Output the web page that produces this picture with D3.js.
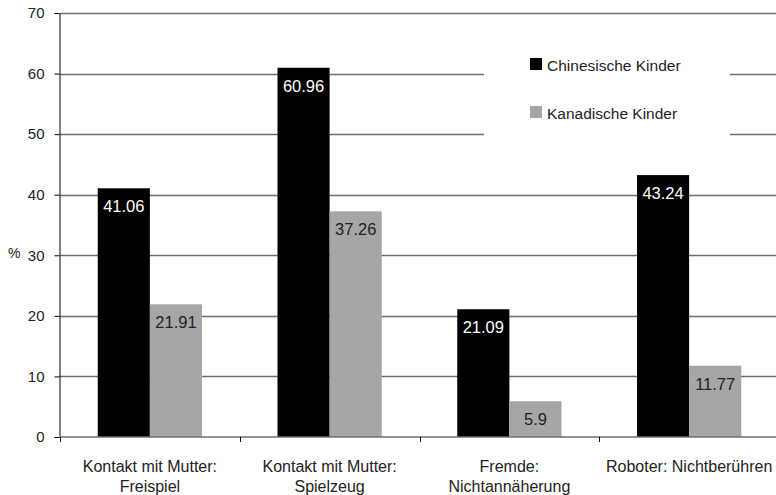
<!DOCTYPE html>
<html>
<head>
<meta charset="utf-8">
<script src="https://cdn.jsdelivr.net/npm/d3@7"></script>
<style>
  body { margin: 0; background: #fff; }
  text { font-family: "Liberation Sans", Arial, sans-serif; }
</style>
</head>
<body>
<script>
var width = 776,
    height = 495;

var categories = [
    ["Kontakt mit Mutter:", "Freispiel"],
    ["Kontakt mit Mutter:", "Spielzeug"],
    ["Fremde:", "Nichtannäherung"],
    ["Roboter: Nichtberühren"]
];
var seriesNames = ["Chinesische Kinder", "Kanadische Kinder"];
var chinese = [41.06, 60.96, 21.09, 43.24];
var canadian = [21.91, 37.26, 5.9, 11.77];
var yTicks = [0, 10, 20, 30, 40, 50, 60, 70];

var colors = ["#000000", "#a6a6a6"];
var labelColors = ["#ffffff", "#222222"];

var margin = {left: 60, top: 13, right: -3, bottom: 58};

var svg = d3.select("body").append("svg")
    .attr("width", width)
    .attr("height", height);

var x = d3.scaleBand()
    .domain(d3.range(categories.length))
    .range([margin.left, width - margin.right])
    .paddingInner(0.42)
    .paddingOuter(0.21);

var y = d3.scaleLinear()
    .domain([0, 70])
    .range([height - margin.bottom, margin.top]);

var x1 = d3.scaleBand()
    .domain([0, 1])
    .range([0, x.bandwidth()]);

// gridlines
svg.append("g")
    .selectAll("line")
    .data(yTicks.slice(1))
    .enter().append("line")
    .attr("x1", margin.left)
    .attr("x2", width)
    .attr("y1", function (d) { return Math.round(y(d)) + 0.5; })
    .attr("y2", function (d) { return Math.round(y(d)) + 0.5; })
    .style("stroke", "#6e6e6e")
    .style("stroke-width", 1.3);

// legend box covers gridlines
svg.append("rect")
    .attr("x", 484).attr("y", 40)
    .attr("width", 246).attr("height", 100)
    .style("fill", "#fff");

// y axis
var yAxis = svg.append("g")
    .attr("transform", "translate(" + (margin.left - 0.5) + ",0)")
    .call(d3.axisLeft(y).tickValues(yTicks).tickSize(5).tickPadding(10).tickSizeOuter(0));
yAxis.select(".domain").style("stroke", "#000");
yAxis.selectAll(".tick line").style("stroke", "#000");
yAxis.selectAll("text")
    .style("font-size", "15px")
    .style("fill", "#222");

svg.append("text")
    .attr("x", 8).attr("y", 258)
    .style("font-size", "14px")
    .style("fill", "#222")
    .text("%");

// bars
var groups = svg.append("g")
    .selectAll("g")
    .data(categories.map(function (c, i) { return [chinese[i], canadian[i]]; }))
    .enter().append("g")
    .attr("transform", function (d, i) { return "translate(" + x(i) + ",0)"; });

groups.selectAll("rect")
    .data(function (d) { return d; })
    .enter().append("rect")
    .attr("x", function (d, j) { return x1(j); })
    .attr("width", x1.bandwidth())
    .attr("y", function (d) { return y(d); })
    .attr("height", function (d) { return y(0) - y(d); })
    .style("fill", function (d, j) { return colors[j]; });

groups.selectAll("text")
    .data(function (d) { return d; })
    .enter().append("text")
    .attr("x", function (d, j) { return x1(j) + x1.bandwidth() / 2; })
    .attr("y", function (d) { return y(d) + 24; })
    .attr("text-anchor", "middle")
    .style("font-size", "16.5px")
    .style("fill", function (d, j) { return labelColors[j]; })
    .text(function (d) { return d; });

// x axis
var step = x.step();
var xAxis = svg.append("g");
xAxis.append("line")
    .attr("x1", margin.left).attr("x2", width)
    .attr("y1", y(0)).attr("y2", y(0))
    .style("stroke", "#6e6e6e")
    .style("stroke-width", 1.3);
xAxis.selectAll(".tk")
    .data(d3.range(categories.length))
    .enter().append("line")
    .attr("class", "tk")
    .attr("x1", function (d) { return Math.round(x(d) - x.paddingInner() * step / 2) + 0.5; })
    .attr("x2", function (d) { return Math.round(x(d) - x.paddingInner() * step / 2) + 0.5; })
    .attr("y1", y(0))
    .attr("y2", y(0) + 5)
    .style("stroke", "#000");

var xl = xAxis.selectAll(".lbl")
    .data(categories)
    .enter().append("text")
    .attr("class", "lbl")
    .attr("text-anchor", "middle")
    .style("font-size", "16px")
    .style("fill", "#222");
xl.selectAll("tspan")
    .data(function (d, i) { return d.map(function (t) { return {t: t, i: i}; }); })
    .enter().append("tspan")
    .attr("x", function (d) { return x(d.i) + x.bandwidth() / 2; })
    .attr("y", function (d, k) { return y(0) + 34.5 + k * 20.5; })
    .text(function (d) { return d.t; });

// legend
var legend = svg.append("g")
    .selectAll("g")
    .data(seriesNames)
    .enter().append("g")
    .attr("transform", function (d, i) { return "translate(530," + (58 + i * 48) + ")"; });
legend.append("rect")
    .attr("width", 12).attr("height", 12)
    .style("fill", function (d, i) { return colors[i]; });
legend.append("text")
    .attr("x", 17).attr("y", 12.5)
    .style("font-size", "15.5px")
    .style("fill", "#222")
    .text(function (d) { return d; });
</script>
</body>
</html>
